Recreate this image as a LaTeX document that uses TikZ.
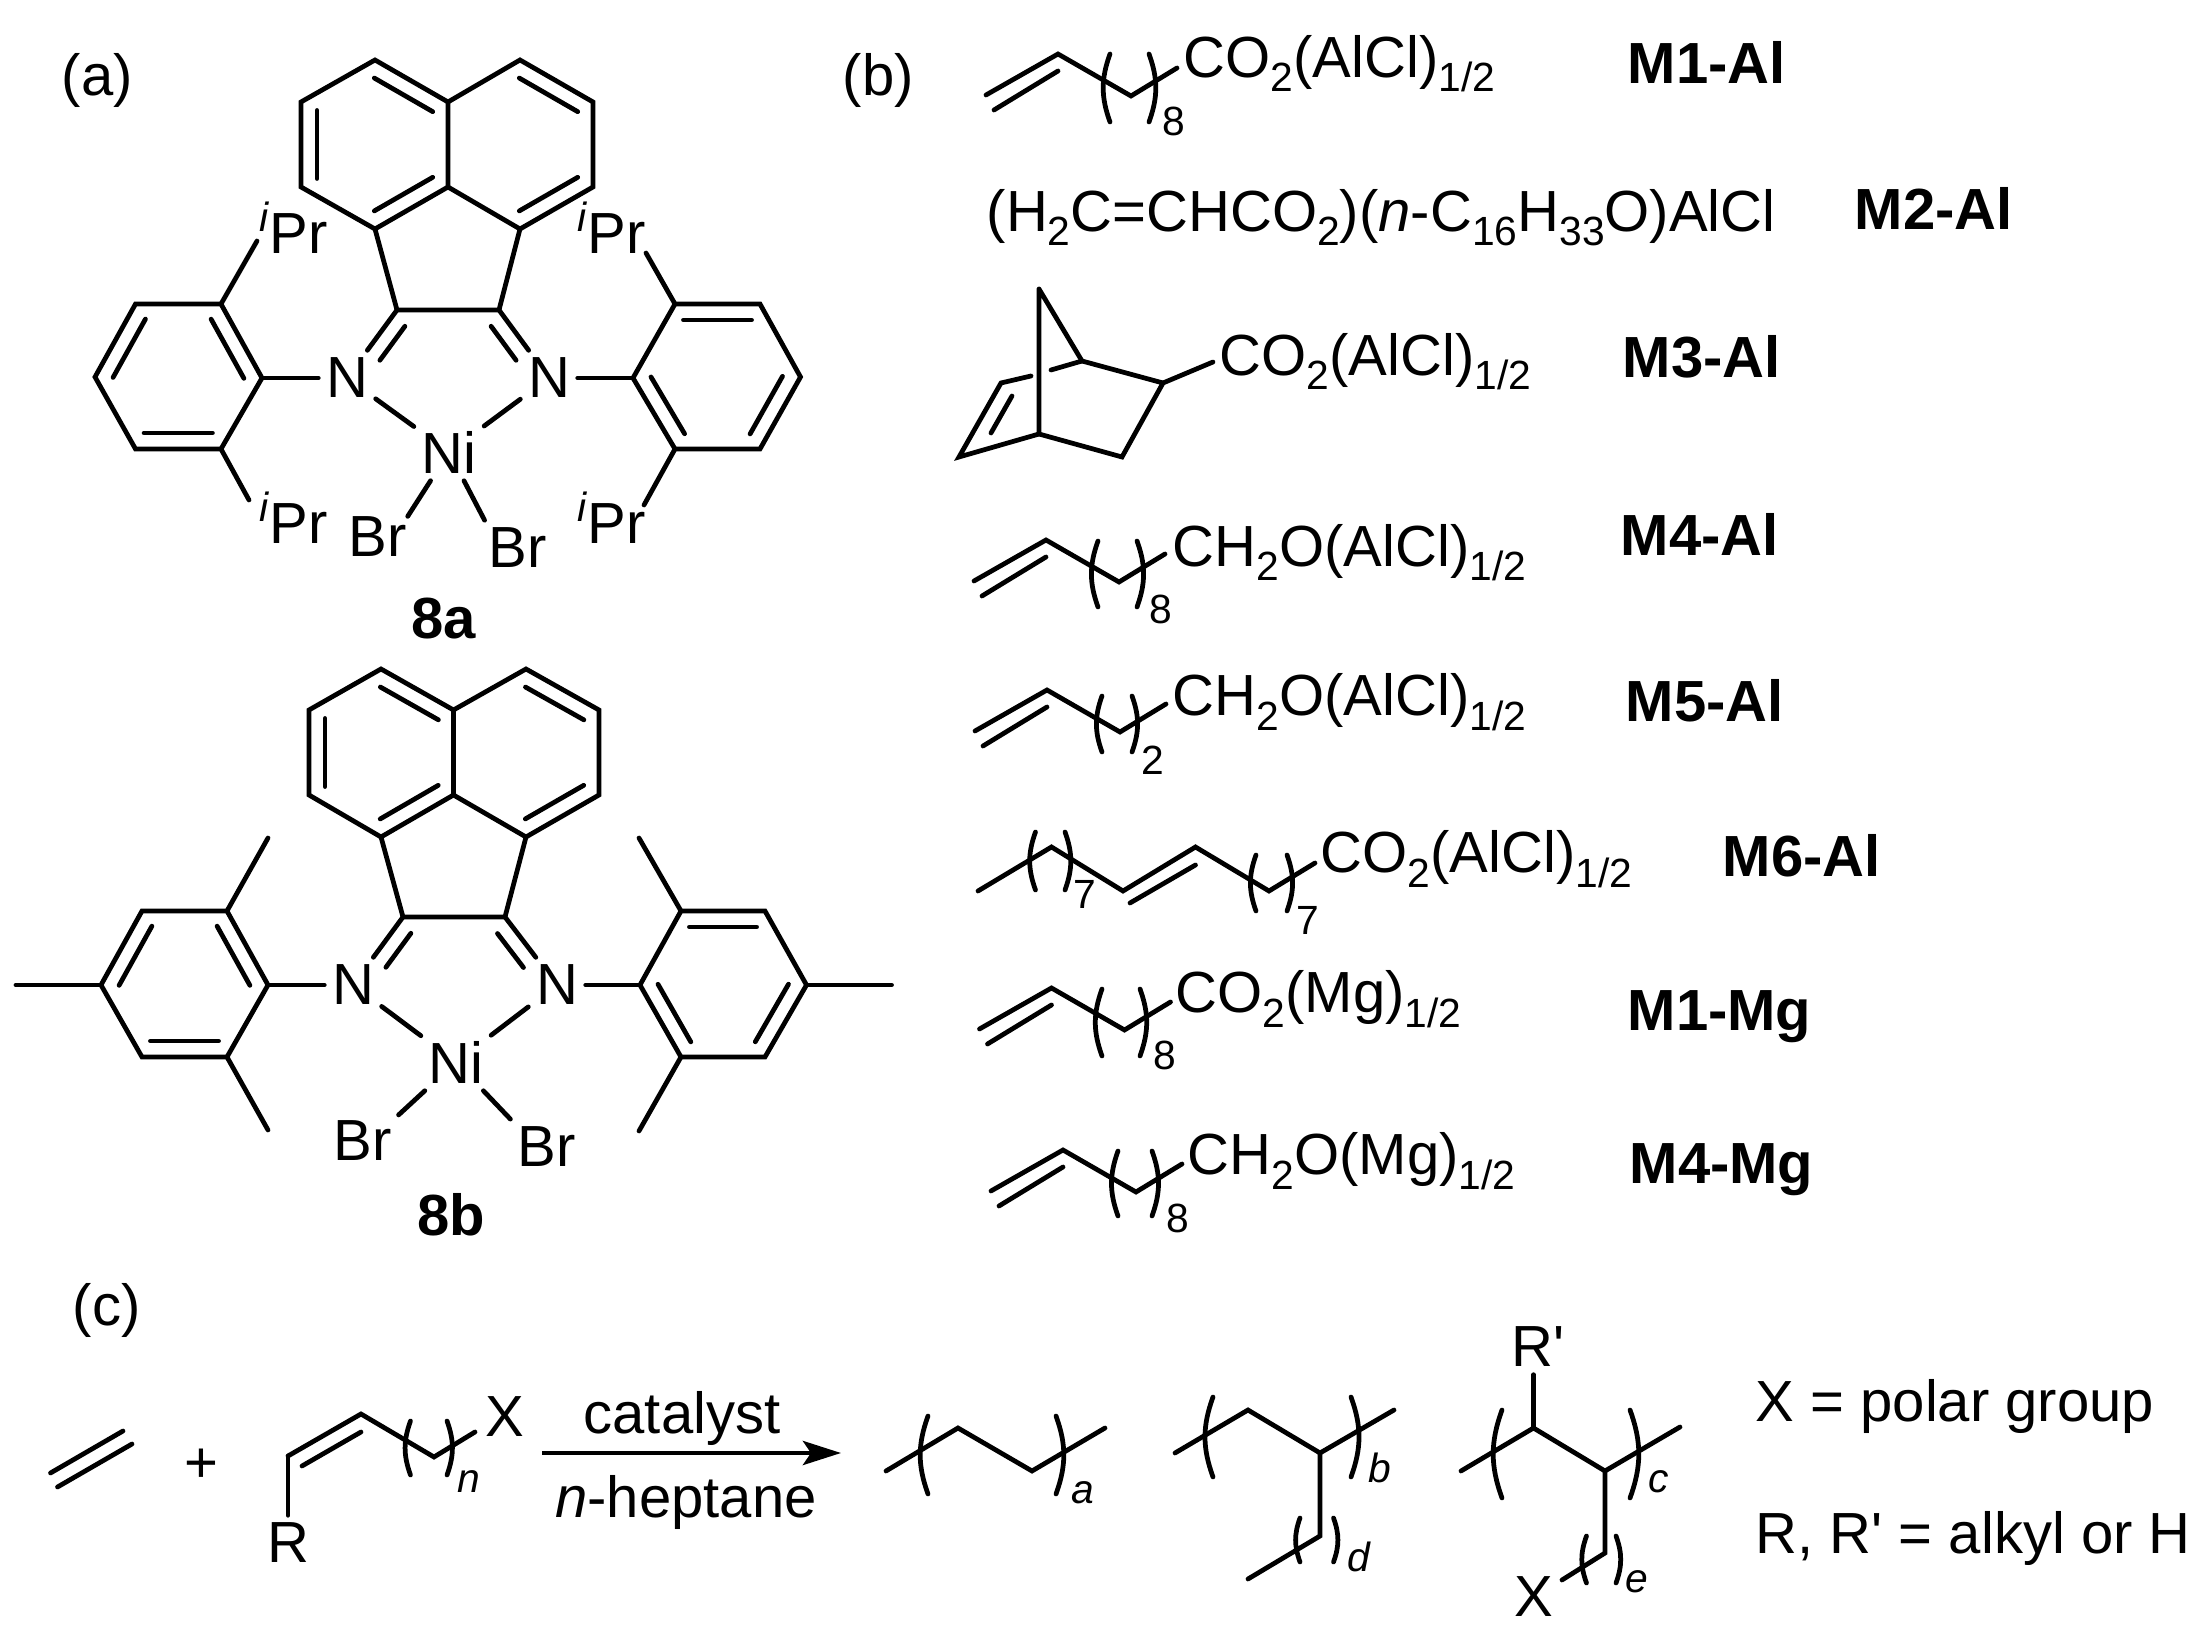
\documentclass[tikz,border=0pt]{standalone}
\usepackage{fontspec}
\setmainfont{Liberation Sans}
\usetikzlibrary{arrows.meta,calc}
\newcommand\smallfont{\fontsize{11.6}{13}\selectfont}
\newcommand\subs[1]{\raisebox{-.14cm}{\smallfont #1}}
\newcommand\isopr{\raisebox{.22cm}{\smallfont\textit{i}}Pr}
\def\innerbond[#1:#2](#3)(#4){\draw[bondline] ($(#3)!#1!(#4)!.16cm!-90:(#4)$) -- ($(#3)!#2!(#4)!.16cm!-90:(#4)$);}
\def\parens(#1:#2)(#3:#4){\draw[bondline] (#1,#3) to[bend right=20] (#1,#4); \draw[bondline] (#2,#3) to[bend left=20] (#2,#4);}
\def\vinyl(#1,#2){\begin{scope}[shift={(#1,#2)}]
	\draw[bondline] (-72,41) -- (0,0) -- (73,42) -- (119,14);
	\draw[bondline] (-64,56) -- (0,17);
\end{scope}}
\tikzset{
	bondline/.style={line width=1.35pt, line cap=round},
	atom/.style={inner sep=2pt, font=\fontsize{16.5}{19}\selectfont},
	tag/.style={anchor=base west, inner sep=0pt, font=\fontsize{16.5}{19}\selectfont},
	compound/.style={anchor=base west, inner sep=0pt, font=\fontsize{16.5}{19}\selectfont\bfseries},
	chainsub/.style={inner sep=0pt, font=\smallfont},
}

\begin{document}
\begin{tikzpicture}[x=0.01cm, y=-0.01cm]
			\useasboundingbox (0, 0) rectangle (2193, 1637);
			
			%%%%% 8a %%%%%
			
			\node[tag] (parta) at (61, 96) {(a)};
			\coordinate (a1) at (375, 60); \coordinate (a2) at (448, 102); \coordinate (a3) at (448, 187);
			\coordinate (a4) at (375, 229); \coordinate (a5) at (301, 187); \coordinate (a6) at (301, 102);
			\coordinate (a7) at (520, 60); \coordinate (a8) at (593, 102); \coordinate (a9) at (593, 187);
			\coordinate (a10) at (520, 229); \coordinate (a11) at (397, 310); \coordinate (a12) at (499, 310);
			\coordinate (al1) at (135.5, 304); \coordinate (al2) at (221, 304); \coordinate (al3) at (262, 378);
			\coordinate (al4) at (221, 449); \coordinate (al5) at (135.5, 449); \coordinate (al6) at (95, 377);
			\coordinate (ar1) at (675, 304); \coordinate (ar2) at (760, 304); \coordinate (ar3) at (800.5, 377);
			\coordinate (ar4) at (760, 449); \coordinate (ar5) at (675, 449); \coordinate (ar6) at (633, 378);
			\coordinate (atl) at (257, 241); \coordinate (atr) at (646, 253);
			\coordinate (abl) at (249, 500); \coordinate (abr) at (644, 505);
			
			\node[atom] (n1a) at (347, 378) {N};
			\node[atom] (n2a) at (549, 378) {N};
			\node[atom] (nia) at (449, 452) {Ni};
			\node[atom, inner sep=0pt] (br1a) at (378, 537) {Br};
			\node[atom, inner sep=0pt] (br2a) at (518, 548) {Br};
			\node[tag] (ipr1a) at (259, 254) {\isopr};
			\node[tag] (ipr2a) at (577, 254) {\isopr};
			\node[tag] (ipr3a) at (259, 544) {\isopr};
			\node[tag] (ipr4a) at (577, 544) {\isopr};
			\node[compound, anchor=base] (name8a) at (444, 639) {8a};
			
			\draw[bondline] (a1) -- (a2) -- (a3) -- (a4) -- (a5) -- (a6) -- cycle;
			\draw[bondline] (a2) -- (a7) -- (a8) -- (a9) -- (a10) -- (a3);
			\draw[bondline] (a4) -- (a11) -- (a12) -- (a10);
			\innerbond[.1:.9](a1)(a2);
			\innerbond[.1:.9](a3)(a4);
			\innerbond[.1:.9](a5)(a6);
			\innerbond[.1:.9](a7)(a8);
			\innerbond[.1:.9](a9)(a10);
			\draw[bondline] (a11) -- (n1a);
			\draw[bondline] (a12) -- (n2a);
			\innerbond[.4:.9](n1a)(a11);
			\innerbond[.1:.6](a12)(n2a);
			\draw[bondline] (n1a) -- (nia);
			\draw[bondline] (n2a) -- (nia);
			\draw[bondline] (nia) -- (br1a.north east);
			\draw[bondline, shorten >=.08cm] (nia) -- (br2a.north west);
			
			\draw[bondline] (al1) -- (al2) -- (al3) -- (al4) -- (al5) -- (al6) -- cycle;
			\innerbond[.1:.9](al2)(al3);
			\innerbond[.1:.9](al4)(al5);
			\innerbond[.1:.9](al6)(al1);
			\draw[bondline] (al3) -- (n1a);
			\draw[bondline] (al2) -- (atl);
			\draw[bondline] (al4) -- (abl);
			
			\draw[bondline] (ar1) -- (ar2) -- (ar3) -- (ar4) -- (ar5) -- (ar6) -- cycle;
			\innerbond[.1:.9](ar1)(ar2);
			\innerbond[.1:.9](ar3)(ar4);
			\innerbond[.1:.9](ar5)(ar6);
			\draw[bondline] (ar6) -- (n2a);
			\draw[bondline] (ar1) -- (atr);
			\draw[bondline] (ar5) -- (abr);
			
			%%%%% 8b %%%%%
			
			\coordinate (b1) at (381, 669); \coordinate (b2) at (453.5, 710); \coordinate (b3) at (453.5, 795);
			\coordinate (b4) at (381, 837); \coordinate (b5) at (309, 795); \coordinate (b6) at (309, 710);
			\coordinate (b7) at (526, 669); \coordinate (b8) at (599, 710); \coordinate (b9) at (599, 795);
			\coordinate (b10) at (526, 837); \coordinate (b11) at (403, 917); \coordinate (b12) at (505, 917);
			\coordinate (bl1) at (142, 911); \coordinate (bl2) at (227, 911); \coordinate (bl3) at (268, 985);
			\coordinate (bl4) at (227, 1057); \coordinate (bl5) at (142, 1057); \coordinate (bl6) at (101, 985);
			\coordinate (br1) at (681, 911); \coordinate (br2) at (765, 911); \coordinate (br3) at (806.5, 985);
			\coordinate (br4) at (765, 1057); \coordinate (br5) at (681, 1057); \coordinate (br6) at (640, 985);
			\coordinate (bme1) at (268, 838); \coordinate (bme2) at (268, 1130); \coordinate (bme3) at (16, 985);
			\coordinate (bme4) at (639, 838); \coordinate (bme5) at (639, 1131); \coordinate (bme6) at (891.5, 985);
			
			\node[atom] (n1b) at (353, 985) {N};
			\node[atom] (n2b) at (557, 985) {N};
			\node[atom] (nib) at (456, 1062) {Ni};
			\node[atom, inner sep=0pt] (br1b) at (363, 1141) {Br};
			\node[atom, inner sep=0pt] (br2b) at (547, 1147) {Br};
			\node[compound, anchor=base] (name8b) at (451, 1235) {8b};
			
			\draw[bondline] (b1) -- (b2) -- (b3) -- (b4) -- (b5) -- (b6) -- cycle;
			\draw[bondline] (b2) -- (b7) -- (b8) -- (b9) -- (b10) -- (b3);
			\draw[bondline] (b4) -- (b11) -- (b12) -- (b10);
			\innerbond[.1:.9](b1)(b2);
			\innerbond[.1:.9](b3)(b4);
			\innerbond[.1:.9](b5)(b6);
			\innerbond[.1:.9](b7)(b8);
			\innerbond[.1:.9](b9)(b10);
			\draw[bondline] (b11) -- (n1b);
			\draw[bondline] (b12) -- (n2b);
			\innerbond[.4:.9](n1b)(b11);
			\innerbond[.1:.6](b12)(n2b);
			\draw[bondline] (n1b) -- (nib);
			\draw[bondline] (n2b) -- (nib);
			\draw[bondline, shorten >=.08cm] (nib) -- (br1b.north east);
			\draw[bondline, shorten >=.1cm] (nib) -- (br2b.north west);
			
			\draw[bondline] (bl1) -- (bl2) -- (bl3) -- (bl4) -- (bl5) -- (bl6) -- cycle;
			\innerbond[.1:.9](bl2)(bl3);
			\innerbond[.1:.9](bl4)(bl5);
			\innerbond[.1:.9](bl6)(bl1);
			\draw[bondline] (bl3) -- (n1b);
			\draw[bondline] (bl2) -- (bme1);
			\draw[bondline] (bl4) -- (bme2);
			\draw[bondline] (bl6) -- (bme3);
			
			\draw[bondline] (br1) -- (br2) -- (br3) -- (br4) -- (br5) -- (br6) -- cycle;
			\innerbond[.1:.9](br1)(br2);
			\innerbond[.1:.9](br3)(br4);
			\innerbond[.1:.9](br5)(br6);
			\draw[bondline] (br6) -- (n2b);
			\draw[bondline] (br1) -- (bme4);
			\draw[bondline] (br5) -- (bme5);
			\draw[bondline] (br3) -- (bme6);
			
			%%%%% MONOMERS %%%%%
			
			\node[tag] (partb) at (842, 96) {(b)};
			
			\vinyl(1058, 54);
			\parens(1110:1149)(54:122);
			\node[chainsub] (sub1) at (1173.5, 121) {8};
			\node[tag] (text1) at (1183, 78) {CO\subs{2}(AlCl)\subs{1/2}};
			\node[compound] (m1al) at (1627, 84) {M1-Al};
			
			\node[tag] (text2) at (986, 232) {(H\subs{2}C=CHCO\subs{2})(\textit{n}-C\subs{16}H\subs{33}O)AlCl};
			\node[compound] (m2al) at (1854, 230) {M2-Al};
			
			\draw[bondline] (1039, 289) -- (1039, 434) -- (1122, 457) -- (1163, 383) -- (1082, 361) -- (1039, 289);
			\draw[bondline] (1082, 361) -- (1051, 370);
			\draw[bondline] (1031, 376) -- (1001, 383) -- (959, 457) -- (1039, 434);
			\draw[bondline] (991, 433) -- (1012, 396);
			\draw[bondline] (1163, 383) -- (1213, 362);
			\node[tag] (text3) at (1219, 376) {CO\subs{2}(AlCl)\subs{1/2}};
			\node[compound] (m3al) at (1622, 378) {M3-Al};
			
			\vinyl(1046, 540);
			\parens(1098:1137)(541:607);
			\node[chainsub] (sub4) at (1161, 609) {8};
			\node[tag] (text4) at (1172, 567) {CH\subs{2}O(AlCl)\subs{1/2}};
			\node[compound] (m4al) at (1620, 556) {M4-Al};
			
			\vinyl(1047, 690);
			\parens(1102:1132)(696:752);
			\node[chainsub] (sub5) at (1153, 760) {2};
			\node[tag] (text5) at (1172, 716) {CH\subs{2}O(AlCl)\subs{1/2}};
			\node[compound] (m5al) at (1625, 722) {M5-Al};
			
			\draw[bondline] (978, 891) -- (1051.5, 847) -- (1123, 891) -- (1195.5, 847) -- (1269, 891) -- (1315, 863);
			\draw[bondline] (1130, 903) -- (1195.5, 865);
			\parens(1035.5:1065)(832:890);
			\node[chainsub] (sub6) at (1084.5, 894) {7};
			\parens(1256:1287)(855:911);
			\node[chainsub] (sub7) at (1308, 920) {7};
			\node[tag] (text6) at (1320, 873) {CO\subs{2}(AlCl)\subs{1/2}};
			\node[compound] (m6al) at (1722, 877) {M6-Al};
			
			\vinyl(1051.5, 988);
			\parens(1102:1140)(989:1056);
			\node[chainsub] (sub8) at (1165, 1055) {8};
			\node[tag] (text7) at (1175, 1013) {CO\subs{2}(Mg)\subs{1/2}};
			\node[compound] (m1mg) at (1627, 1031) {M1-Mg};
			
			\vinyl(1063, 1150);
			\parens(1118:1152)(1151:1216);
			\node[chainsub] (sub9) at (1177.5, 1218) {8};
			\node[tag] (text8) at (1187, 1175) {CH\subs{2}O(Mg)\subs{1/2}};
			\node[compound] (m4mg) at (1629, 1183) {M4-Mg};
			
			%%%%% REACTION %%%%%
			
			\node[tag] (partc) at (72, 1325) {(c)};
			
			\draw[bondline] (50.5, 1473) -- (123, 1431);
			\draw[bondline] (57.5, 1487) -- (132, 1444);
			\node[atom] (plus) at (201, 1466) {+};
			
			\coordinate (rstem) at (288, 1456);
			\node[atom] (rgroup) at (288, 1543) {R};
			\node[atom, inner sep=0pt] (xgroup) at (505, 1417) {X};
			\draw[bondline] (rstem) -- (361, 1414) -- (434, 1457) -- (475, 1432);
			\draw[bondline] (302, 1466) -- (361, 1432);
			\draw[bondline] (rstem) -- (rgroup);
			\parens(410.5:447)(1421:1475);
			\node[chainsub] (subn) at (469, 1482) {\textit{n}};
			
			\coordinate (arrowstart) at (542, 1453);
			\coordinate (arrowend) at (841, 1453);
			\draw[bondline, line cap=butt, -{Stealth[length=.38cm, width=.24cm, inset=.08cm]}] (arrowstart) -- (arrowend);
			\node[tag, anchor=base] (above) at (682, 1433) {catalyst};
			\node[tag, anchor=base] (below) at (686, 1517) {\textit{n}-heptane};
			
			\draw[bondline] (886, 1471) -- (958, 1428) -- (1032, 1471) -- (1105, 1428);
			\parens(928:1056)(1416:1494);
			\node[chainsub] (suba) at (1083, 1493) {\textit{a}};
			
			\draw[bondline] (1175, 1453) -- (1248, 1410) -- (1320, 1453) -- (1394, 1410);
			\draw[bondline] (1320, 1453) -- (1320, 1536) -- (1248, 1579);
			\parens(1213:1351)(1397:1477);
			\node[chainsub] (subb) at (1380, 1468) {\textit{b}};
			\parens(1300:1333.5)(1518:1562);
			\node[chainsub] (subd) at (1359, 1557) {\textit{d}};
			
			\coordinate (cstem) at (1533.5, 1428);
			\node[atom] (rprime) at (1538, 1347) {R\textquotesingle};
			\draw[bondline] (cstem |- rprime.south) -- (cstem);
			\draw[bondline] (1461, 1471) -- (cstem) -- (1605, 1471) -- (1680, 1427);
			\draw[bondline] (1605, 1471) -- (1605, 1553) -- (1562, 1580);
			\parens(1502:1630)(1410:1498);
			\node[chainsub] (subc) at (1659, 1482) {\textit{c}};
			\parens(1586.5:1616)(1536:1583);
			\node[chainsub] (sube) at (1637, 1582) {\textit{e}};
			\node[atom, inner sep=0pt] (xpoly) at (1533.5, 1597) {X};
			
			\node[tag] (legend1) at (1755, 1421) {X = polar group};
			\node[tag] (legend2) at (1755, 1553) {R, R\textquotesingle\ = alkyl or H};
			
			%%%%% END %%%%%
\end{tikzpicture}
\end{document}
